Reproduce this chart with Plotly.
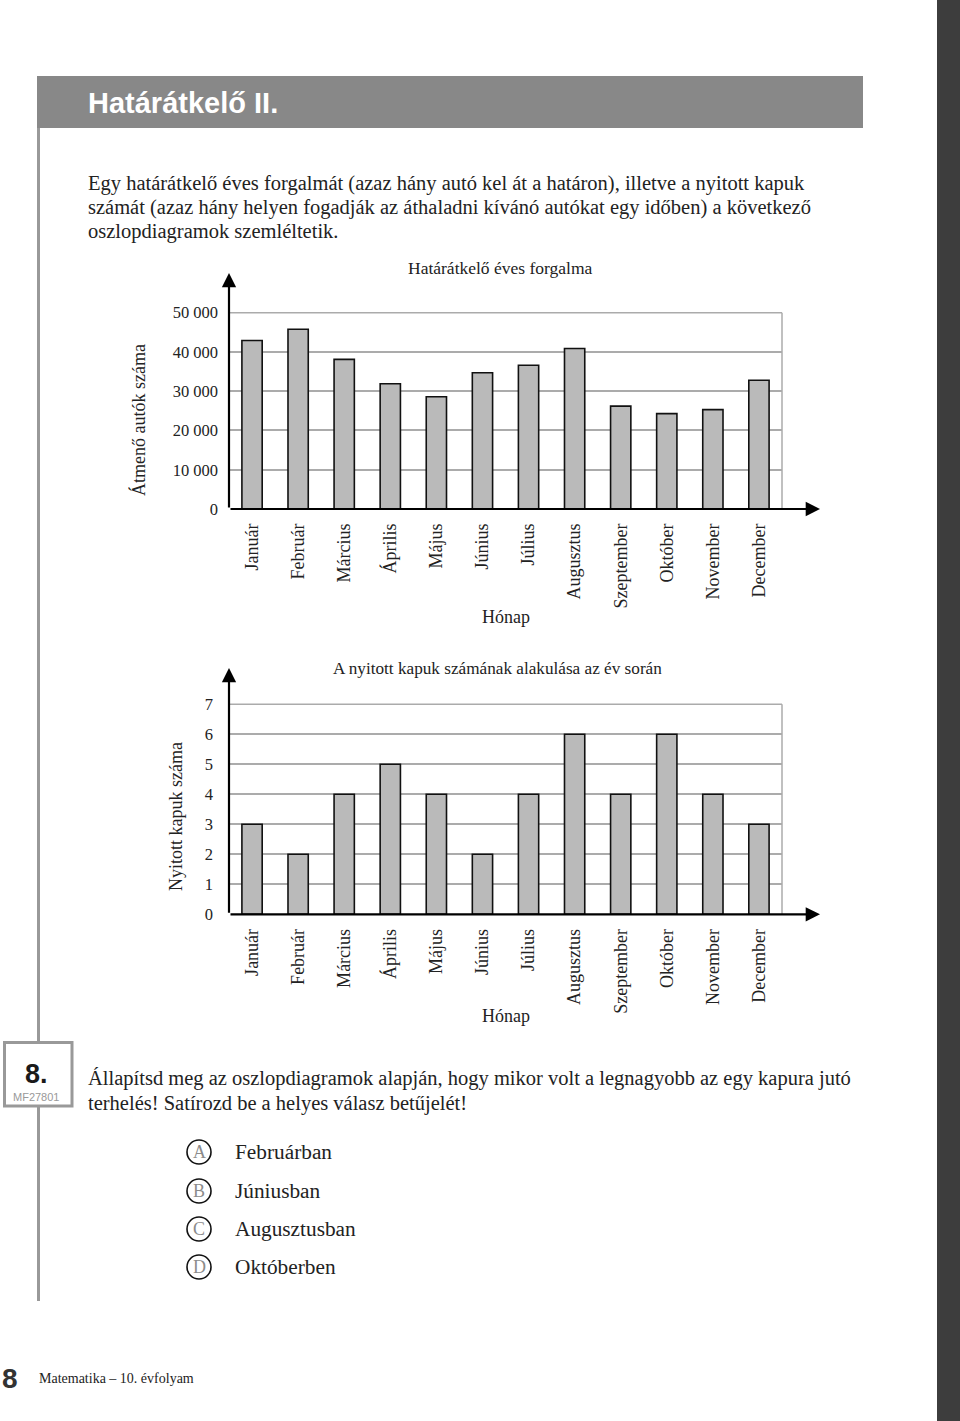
import plotly.graph_objects as go

W, H = 960, 1421

months = ["Január", "Február", "Március", "Április", "Május", "Június",
          "Július", "Augusztus", "Szeptember", "Október", "November", "December"]
traffic = [42900, 45800, 38100, 31900, 28600, 34700, 36600, 40900, 26200, 24300, 25300, 32800]
gates = [3, 2, 4, 5, 4, 2, 4, 6, 4, 6, 4, 3]

traffic_tickvals = [0, 10000, 20000, 30000, 40000, 50000]
traffic_ticktext = ["0", "10 000", "20 000", "30 000", "40 000", "50 000"]
gates_tickvals = [0, 1, 2, 3, 4, 5, 6, 7]
gates_ticktext = ["0", "1", "2", "3", "4", "5", "6", "7"]

title_top = "Határátkelő éves forgalma"
title_bottom = "A nyitott kapuk számának alakulása az év során"
ytitle_top = "Átmenő autók száma"
ytitle_bottom = "Nyitott kapuk száma"
xtitle = "Hónap"

intro_lines = [
    "Egy határátkelő éves forgalmát (azaz hány autó kel át a határon), illetve a nyitott kapuk",
    "számát (azaz hány helyen fogadják az áthaladni kívánó autókat egy időben) a következő",
    "oszlopdiagramok szemléltetik.",
]
question_lines = [
    "Állapítsd meg az oszlopdiagramok alapján, hogy mikor volt a legnagyobb az egy kapura jutó",
    "terhelés! Satírozd be a helyes válasz betűjelét!",
]
option_letters = ["A", "B", "C", "D"]
option_texts = ["Februárban", "Júniusban", "Augusztusban", "Októberben"]

SERIF = "Liberation Serif, Times New Roman, serif"
SANS = "Liberation Sans, Arial, sans-serif"


def X(px):
    return px / W


def Y(py):
    return 1 - py / H


AX_L, AX_R = 229, 782
TOP_Y0, TOP_Y1 = 509, 312.7
BOT_Y0, BOT_Y1 = 914.3, 704.3
GRID = "#ababab"

fig = go.Figure()
fig.add_trace(go.Bar(x=months, y=traffic, width=0.44,
                     marker=dict(color="#bababa", line=dict(color="#111", width=1.6)),
                     xaxis="x", yaxis="y", showlegend=False))
fig.add_trace(go.Bar(x=months, y=gates, width=0.44,
                     marker=dict(color="#bababa", line=dict(color="#111", width=1.6)),
                     xaxis="x2", yaxis="y2", showlegend=False))

ytick_font = dict(family=SERIF, size=16.5, color="#222")
xtick_font = dict(family=SERIF, size=18, color="#222")
fig.update_layout(
    width=W, height=H, margin=dict(l=0, r=0, t=0, b=0, pad=0, autoexpand=False),
    paper_bgcolor="white", plot_bgcolor="white",
    xaxis=dict(domain=[X(AX_L), X(AX_R)], range=[-0.5, 11.5], tickangle=-90, automargin=False,
               showline=False, zeroline=False, ticks="", showgrid=False, ticklabelstandoff=10,
               tickfont=xtick_font),
    yaxis=dict(domain=[Y(TOP_Y0), Y(TOP_Y1)], range=[0, 50000], automargin=False,
               tickvals=traffic_tickvals, ticktext=traffic_ticktext,
               showline=False, zeroline=False, ticks="", tickfont=ytick_font,
               showgrid=True, gridcolor=GRID, gridwidth=1.5, ticklabelstandoff=10),
    xaxis2=dict(domain=[X(AX_L), X(AX_R)], range=[-0.5, 11.5], tickangle=-90, anchor="y2",
                automargin=False, showline=False, zeroline=False, ticks="", showgrid=False,
                ticklabelstandoff=10, tickfont=xtick_font),
    yaxis2=dict(domain=[Y(BOT_Y0), Y(BOT_Y1)], range=[0, 7], anchor="x2", automargin=False,
                tickvals=gates_tickvals, ticktext=gates_ticktext,
                showline=False, zeroline=False, ticks="", tickfont=ytick_font,
                showgrid=True, gridcolor=GRID, gridwidth=1.5, ticklabelstandoff=15),
)

shapes = []
# page elements
shapes.append(dict(type="rect", xref="paper", yref="paper", x0=X(937), x1=X(960), y0=Y(1421), y1=Y(0),
                   fillcolor="#3d3d3d", line=dict(width=0), layer="below"))
shapes.append(dict(type="rect", xref="paper", yref="paper", x0=X(37), x1=X(863), y0=Y(128), y1=Y(76),
                   fillcolor="#888888", line=dict(width=0), layer="below"))
shapes.append(dict(type="line", xref="paper", yref="paper", x0=X(38.5), x1=X(38.5), y0=Y(128), y1=Y(1042),
                   line=dict(color="#999999", width=3)))
shapes.append(dict(type="line", xref="paper", yref="paper", x0=X(38.5), x1=X(38.5), y0=Y(1107), y1=Y(1301),
                   line=dict(color="#999999", width=3)))
shapes.append(dict(type="rect", xref="paper", yref="paper", x0=X(4.5), x1=X(72), y0=Y(1106), y1=Y(1042.5),
                   fillcolor="white", line=dict(color="#999999", width=3)))
# plot frames (right border and top gridline)
for xr, yr in (("x domain", "y domain"), ("x2 domain", "y2 domain")):
    shapes.append(dict(type="line", xref=xr, yref=yr, x0=1, x1=1, y0=0, y1=1,
                       line=dict(color=GRID, width=1.5), layer="below"))
    shapes.append(dict(type="line", xref=xr, yref=yr, x0=0, x1=1, y0=1, y1=1,
                       line=dict(color=GRID, width=1.5), layer="below"))
# option circles
opt_y = [1152, 1191, 1229, 1267]
for oy in opt_y:
    shapes.append(dict(type="circle", xref="paper", yref="paper",
                       x0=X(199 - 12), x1=X(199 + 12), y0=Y(oy + 12), y1=Y(oy - 12),
                       line=dict(color="#111", width=1.6)))

annotations = []
# axes as arrows
for xr, yr, ytop in (("x domain", "y domain", (TOP_Y0 - 273) / (TOP_Y0 - TOP_Y1)),
                     ("x2 domain", "y2 domain", (BOT_Y0 - 668) / (BOT_Y0 - BOT_Y1))):
    annotations.append(dict(xref=xr, yref=yr, axref=xr, ayref=yr, x=0, y=ytop, ax=0, ay=0,
                            showarrow=True, arrowhead=2, arrowsize=1.3, arrowwidth=2.2,
                            arrowcolor="#000", text=""))
    annotations.append(dict(xref=xr, yref=yr, axref=xr, ayref=yr, x=(820 - AX_L) / (AX_R - AX_L), y=0,
                            ax=0, ay=0, showarrow=True, arrowhead=2, arrowsize=1.3, arrowwidth=2.2,
                            arrowcolor="#000", text=""))


def txt(x, y, text, size, family=SERIF, color="#222", xanchor="left", angle=0, bold=False):
    if bold:
        text = "<b>" + text + "</b>"
    annotations.append(dict(xref="paper", yref="paper", x=X(x), y=Y(y), text=text, showarrow=False,
                            xanchor=xanchor, yanchor="middle", textangle=angle,
                            font=dict(family=family, size=size, color=color)))


txt(86, 103, "Határátkelő II.", 29, family=SANS, color="white", bold=True)
for i, line in enumerate(intro_lines):
    txt(86, 183 + i * 24.5, line, 20.5)
txt(500, 268, title_top, 17.5, xanchor="center")
txt(497, 669, title_bottom, 17.2, xanchor="center")
txt(138, 420, ytitle_top, 18, xanchor="center", angle=-90)
txt(176, 817, ytitle_bottom, 18, xanchor="center", angle=-90)
txt(505.5, 617, xtitle, 18, xanchor="center")
txt(505.5, 1016, xtitle, 18, xanchor="center")

txt(36, 1074, "8.", 27, family=SANS, color="#1a1a1a", xanchor="center", bold=True)
txt(36, 1097, "MF27801", 11, family=SANS, color="#999999", xanchor="center")
for i, line in enumerate(question_lines):
    txt(86, 1078 + i * 25, line, 20.5)
for oy, letter, t in zip(opt_y, option_letters, option_texts):
    txt(199, oy, letter, 18, color="#8c8c8c", xanchor="center")
    txt(233, oy, t, 21.3)

txt(10, 1378, "8", 28, family=SANS, color="#333", xanchor="center", bold=True)
txt(37, 1378, "Matematika – 10. évfolyam", 14)

fig.update_layout(shapes=shapes, annotations=annotations)
fig.write_html("out.html")
